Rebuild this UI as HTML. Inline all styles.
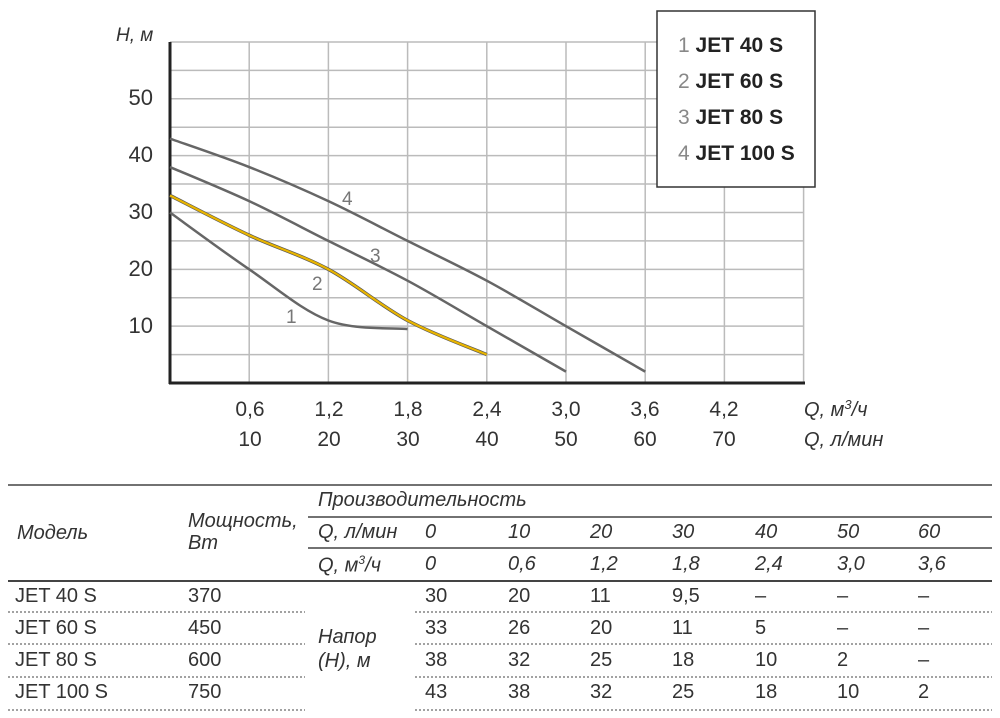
<!DOCTYPE html>
<html><head><meta charset="utf-8"><style>
body{margin:0;background:#fff;width:1000px;height:718px;overflow:hidden;font-family:"Liberation Sans","DejaVu Sans",sans-serif;color:#333}
.t{position:absolute;font-size:20px;white-space:nowrap}
.i{font-style:italic}
</style></head><body>
<svg width="1000" height="718" style="position:absolute;left:0;top:0" id="s">
<g id="grid" stroke="#bbb" stroke-width="1.5"></g>
<line x1="170" y1="42" x2="170" y2="384" stroke="#222" stroke-width="3"/>
<line x1="169" y1="383" x2="805" y2="383" stroke="#222" stroke-width="3"/>
<g id="curves" fill="none" stroke-width="2.5"></g>
<g font-family="Liberation Sans,sans-serif" font-size="19" fill="#777">
<text x="342" y="205">4</text><text x="370" y="262">3</text><text x="312" y="290">2</text><text x="286" y="323">1</text>
</g>
<rect x="657" y="11" width="158" height="176" fill="#fff" stroke="#333" stroke-width="1.5"/>
<g font-family="Liberation Sans,sans-serif" font-size="21" font-weight="bold" fill="#222">
<text x="678" y="52"><tspan fill="#888" font-weight="normal">1</tspan> JET 40 S</text>
<text x="678" y="88"><tspan fill="#888" font-weight="normal">2</tspan> JET 60 S</text>
<text x="678" y="124"><tspan fill="#888" font-weight="normal">3</tspan> JET 80 S</text>
<text x="678" y="160"><tspan fill="#888" font-weight="normal">4</tspan> JET 100 S</text>
</g>
<g font-family="Liberation Sans,sans-serif" font-size="22" fill="#333" text-anchor="end">
<text x="153" y="105">50</text><text x="153" y="162">40</text><text x="153" y="219">30</text><text x="153" y="276">20</text><text x="153" y="333">10</text>
</g>
<text x="116" y="41" font-size="19" font-style="italic" fill="#333" font-family="Liberation Sans,sans-serif">H, м</text>
<g font-family="Liberation Sans,sans-serif" font-size="21" fill="#333" text-anchor="middle">
<text x="250" y="416">0,6</text><text x="329" y="416">1,2</text><text x="408" y="416">1,8</text><text x="487" y="416">2,4</text><text x="566" y="416">3,0</text><text x="645" y="416">3,6</text><text x="724" y="416">4,2</text>
<text x="250" y="446">10</text><text x="329" y="446">20</text><text x="408" y="446">30</text><text x="487" y="446">40</text><text x="566" y="446">50</text><text x="645" y="446">60</text><text x="724" y="446">70</text>
</g>
<g font-family="Liberation Sans,sans-serif" font-size="20" font-style="italic" fill="#333">
<text x="804" y="416">Q, м<tspan font-size="13" dy="-7">3</tspan><tspan dy="7">/ч</tspan></text>
<text x="804" y="446">Q, л/мин</text>
</g>
<g id="tbl" stroke="#444"></g>
</svg>
<div class="t i" style="left:17px;top:522px">Модель</div>
<div class="t i" style="left:188px;top:510px;line-height:22px">Мощность,<br>Вт</div>
<div class="t i" style="left:318px;top:489px">Производительность</div>
<div class="t i" style="left:318px;top:521px">Q, л/мин</div>
<div class="t i" style="left:318px;top:553px">Q, м<sup style="font-size:12px">3</sup>/ч</div>
<div class="t i" style="left:318px;top:625px;line-height:24px">Напор<br>(Н), м</div>
<div id="cells"></div>
<script>
var g=document.getElementById('grid'),h='';
for(var i=1;i<=8;i++){var x=170+i*79.2;h+='<line x1="'+x+'" y1="42" x2="'+x+'" y2="383"/>';}
for(var j=1;j<=12;j++){var y=383-j*28.42;h+='<line x1="170" y1="'+y+'" x2="804" y2="'+y+'"/>';}
g.innerHTML=h;
function X(q){return 170+q/0.6*79.2}function Y(v){return 383-v*5.683}
function cr(p){var d='M'+p[0][0]+','+p[0][1];for(var i=0;i<p.length-1;i++){var p0=p[i-1]||p[i],p1=p[i],p2=p[i+1],p3=p[i+2]||p2;
d+=' C'+(p1[0]+(p2[0]-p0[0])/6)+','+(p1[1]+(p2[1]-p0[1])/6)+' '+(p2[0]-(p3[0]-p1[0])/6)+','+(p2[1]-(p3[1]-p1[1])/6)+' '+p2[0]+','+p2[1];}return d}
var data=[[30,20,11,9.5],[33,26,20,11,5],[38,32,25,18,10,2],[43,38,32,25,18,10,2]];
var cols=['#666','#e8b400','#666','#666'],c='';
data.forEach(function(a,k){var p=a.map(function(v,i){return[X(i*0.6),Y(v)]});
if(k==1)c+='<path d="'+cr(p)+'" stroke="#555" stroke-width="3.5"/>';
c+='<path d="'+cr(p)+'" stroke="'+cols[k]+'" stroke-width="'+(k==1?2.2:2.5)+'"/>';});
document.getElementById('curves').innerHTML=c;
var t='<line x1="8" y1="485" x2="992" y2="485" stroke-width="1.5"/><line x1="308" y1="517" x2="992" y2="517" stroke-width="1.5"/><line x1="308" y1="548" x2="992" y2="548" stroke-width="1.5"/><line x1="8" y1="581" x2="992" y2="581" stroke-width="2"/>';
[612,644,677,710].forEach(function(y){t+='<line x1="8" y1="'+y+'" x2="305" y2="'+y+'" stroke-dasharray="2,2" stroke-width="1"/><line x1="415" y1="'+y+'" x2="992" y2="'+y+'" stroke-dasharray="2,2" stroke-width="1"/>';});
document.getElementById('tbl').innerHTML=t;
var cx=[425,508,590,672,755,837,918],cc='';
var q1=['0','10','20','30','40','50','60'],q2=['0','0,6','1,2','1,8','2,4','3,0','3,6'];
q1.forEach(function(v,i){cc+='<div class="t i" style="left:'+cx[i]+'px;top:521px">'+v+'</div><div class="t i" style="left:'+cx[i]+'px;top:553px">'+q2[i]+'</div>';});
var rows=[['JET 40 S','370',['30','20','11','9,5','–','–','–']],['JET 60 S','450',['33','26','20','11','5','–','–']],['JET 80 S','600',['38','32','25','18','10','2','–']],['JET 100 S','750',['43','38','32','25','18','10','2']]];
var ry=[585,617,649,681];
rows.forEach(function(r,k){cc+='<div class="t" style="left:15px;top:'+ry[k]+'px">'+r[0]+'</div><div class="t" style="left:188px;top:'+ry[k]+'px">'+r[1]+'</div>';
r[2].forEach(function(v,i){cc+='<div class="t" style="left:'+cx[i]+'px;top:'+ry[k]+'px">'+v+'</div>';});});
document.getElementById('cells').innerHTML=cc;
</script>
</body></html>
